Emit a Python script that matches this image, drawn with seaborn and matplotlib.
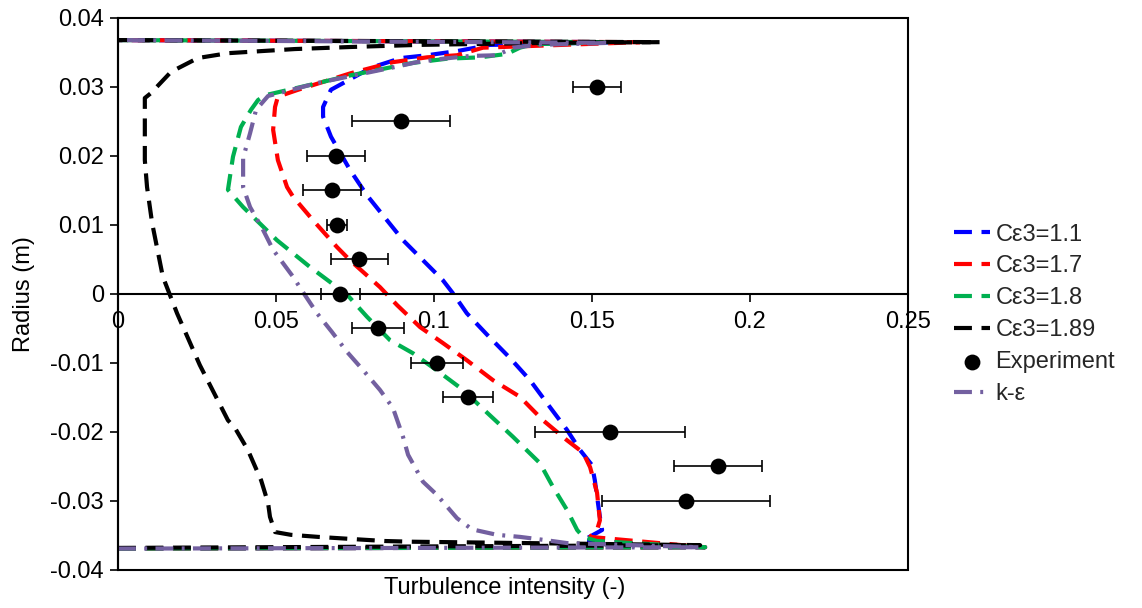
import numpy as np
import pandas as pd
import matplotlib
matplotlib.use("Agg")
import matplotlib.pyplot as plt
import seaborn as sns
from matplotlib.ticker import FuncFormatter

# ---------------- data ----------------
# Turbulence intensity (x) vs radius (y), ordered from bottom wall to top wall
c11_x = [0, 0.1858, 0.1472, 0.1532, 0.1525, 0.1509, 0.1500, 0.1462, 0.1421, 0.1367, 0.1304, 0.1241,
         0.1168, 0.1104, 0.1060, 0.1028, 0.0965, 0.0902, 0.0851, 0.0788, 0.0734, 0.0674, 0.0649,
         0.0649, 0.0674, 0.0718, 0.0801, 0.0896, 0.0978, 0.1073, 0.1177, 0.1589, 0]
c11_y = [-0.0369, -0.0367, -0.0357, -0.0342, -0.0323, -0.0270, -0.0248, -0.0226, -0.0197, -0.0164,
         -0.0125, -0.0093, -0.0059, -0.0028, 0.0001, 0.0020, 0.0049, 0.0078, 0.0107, 0.0143, 0.0180,
         0.0228, 0.0257, 0.0271, 0.0296, 0.0307, 0.0328, 0.0342, 0.0346, 0.0352, 0.0361, 0.0365, 0.0368]

c17_x = [0, 0.1858, 0.1494, 0.1516, 0.1525, 0.1516, 0.1494, 0.1472, 0.1421, 0.1345, 0.1304, 0.1272,
         0.1187, 0.1104, 0.1028, 0.0956, 0.0883, 0.0829, 0.0734, 0.0693, 0.0617, 0.0554, 0.0535,
         0.0506, 0.0491, 0.0497, 0.0506, 0.0570, 0.0737, 0.0870, 0.0978, 0.1073, 0.1155, 0.1652, 0]
c17_y = [-0.0369, -0.0367, -0.0352, -0.0342, -0.0328, -0.0288, -0.0251, -0.0230, -0.0212, -0.0183,
         -0.0164, -0.0149, -0.0125, -0.0096, -0.0071, -0.0048, -0.0016, 0.0010, 0.0049, 0.0068,
         0.0107, 0.0141, 0.0155, 0.0194, 0.0238, 0.0271, 0.0286, 0.0296, 0.0320, 0.0336, 0.0343,
         0.0346, 0.0357, 0.0365, 0.0368]

c18_x = [0, 0.1858, 0.1516, 0.1472, 0.1453, 0.1421, 0.1377, 0.1335, 0.1250, 0.1168, 0.1092, 0.1019,
         0.0934, 0.0861, 0.0788, 0.0725, 0.0608, 0.0503, 0.0396, 0.0348, 0.0364, 0.0389, 0.0421,
         0.0443, 0.0465, 0.0579, 0.0737, 0.0934, 0.1041, 0.1146, 0.1231, 0.1272, 0.1313, 0.1557, 0]
c18_y = [-0.0369, -0.0367, -0.0358, -0.0352, -0.0342, -0.0313, -0.0280, -0.0245, -0.0207, -0.0172,
         -0.0139, -0.0114, -0.0086, -0.0067, -0.0033, -0.0001, 0.0039, 0.0078, 0.0126, 0.0151,
         0.0199, 0.0242, 0.0267, 0.0281, 0.0288, 0.0300, 0.0317, 0.0335, 0.0341, 0.0343, 0.0348,
         0.0357, 0.0362, 0.0365, 0.0368]

c189_x = [0, 0.1842, 0.0927, 0.0845, 0.0737, 0.0633, 0.0547, 0.0497, 0.0481, 0.0475, 0.0453, 0.0411,
          0.0370, 0.0348, 0.0259, 0.0187, 0.0142, 0.0108, 0.0092, 0.0085, 0.0085, 0.0085, 0.0104,
          0.0168, 0.0253, 0.0348, 0.0453, 0.0560, 0.0737, 0.0949, 0.1367, 0.1715, 0]
c189_y = [-0.0368, -0.0364, -0.0359, -0.0358, -0.0355, -0.0352, -0.0349, -0.0345, -0.0323, -0.0303,
          -0.0270, -0.0226, -0.0194, -0.0183, -0.0103, -0.0028, 0.0025, 0.0103, 0.0155, 0.0194,
          0.0252, 0.0284, 0.0291, 0.0322, 0.0342, 0.0349, 0.0352, 0.0355, 0.0358, 0.0361, 0.0364,
          0.0365, 0.0368]

ke_x = [0, 0.1840, 0.1421, 0.1358, 0.1272, 0.1199, 0.1120, 0.1073, 0.1009, 0.0965, 0.0918, 0.0902,
        0.0870, 0.0829, 0.0775, 0.0725, 0.0677, 0.0630, 0.0585, 0.0554, 0.0491, 0.0459, 0.0418,
        0.0396, 0.0396, 0.0418, 0.0437, 0.0475, 0.0633, 0.0877, 0.0946, 0.1028, 0.1114, 0.1199,
        0.1250, 0.1326, 0.1557, 0]
ke_y = [-0.0369, -0.0367, -0.0361, -0.0357, -0.0352, -0.0349, -0.0341, -0.0325, -0.0291, -0.0272,
        -0.0233, -0.0207, -0.0165, -0.0139, -0.0110, -0.0084, -0.0055, -0.0028, 0.0003, 0.0025,
        0.0064, 0.0093, 0.0126, 0.0155, 0.0197, 0.0233, 0.0267, 0.0287, 0.0306, 0.0329, 0.0336,
        0.0341, 0.0345, 0.0346, 0.0357, 0.0361, 0.0364, 0.0368]

exp_r = [0.03, 0.025, 0.02, 0.015, 0.01, 0.005, 0, -0.005, -0.01, -0.015, -0.02, -0.025, -0.03]
exp_ti = [0.1516, 0.0896, 0.0690, 0.0677, 0.0693, 0.0763, 0.0703, 0.0823, 0.1010, 0.1108, 0.1557,
          0.1899, 0.1797]
exp_err = [0.0076, 0.0155, 0.0092, 0.0092, 0.0032, 0.0090, 0.0062, 0.0081, 0.0082, 0.0078, 0.0237,
           0.0139, 0.0265]

labels = ["Cε3=1.1", "Cε3=1.7", "Cε3=1.8", "Cε3=1.89", "Experiment", "k-ε"]
x_ticks = [0, 0.05, 0.1, 0.15, 0.2, 0.25]
y_ticks = [-0.04, -0.03, -0.02, -0.01, 0, 0.01, 0.02, 0.03, 0.04]

# ---------------- style ----------------
sns.set_theme(style="white")
plt.rcParams["font.family"] = ["Liberation Sans", "DejaVu Sans"]
plt.rcParams["axes.unicode_minus"] = False
FS = 17

fig = plt.figure(figsize=(11.42, 6.08), dpi=100)
ax = fig.add_axes([0.1033, 0.0625, 0.6918, 0.9079])

dash = (0, (4.3, 2.3))
lw = 3.0
series = [
    (c11_x, c11_y, "#0000FF", labels[0]),
    (c17_x, c17_y, "#FF0000", labels[1]),
    (c18_x, c18_y, "#00B050", labels[2]),
    (c189_x, c189_y, "#000000", labels[3]),
]
for xs, ys, col, lab in series:
    sns.lineplot(x=xs, y=ys, sort=False, estimator=None, errorbar=None, color=col,
                 linestyle=dash, linewidth=lw, label=lab, ax=ax)

ax.errorbar(exp_ti, exp_r, xerr=exp_err, fmt="none", ecolor="black", elinewidth=1.2,
            capsize=4, capthick=1.2, zorder=5)
sns.scatterplot(x=exp_ti, y=exp_r, color="black", s=130, edgecolor="black", linewidth=0,
                label=labels[4], ax=ax, zorder=6)

sns.lineplot(x=ke_x, y=ke_y, sort=False, estimator=None, errorbar=None, color="#7360A0",
             linestyle=(0, (4.3, 2.0, 0.7, 2.0)), linewidth=lw, label=labels[5], ax=ax)

# ---------------- axes ----------------
ax.set_xlim(0, 0.25)
ax.set_ylim(-0.04, 0.04)
ax.set_xticks(x_ticks)
ax.set_yticks(y_ticks)
fmt = FuncFormatter(lambda v, p: f"{round(v, 4):g}" if abs(v) > 1e-9 else "0")
ax.xaxis.set_major_formatter(fmt)
ax.yaxis.set_major_formatter(fmt)

for s in ["top", "right"]:
    ax.spines[s].set_visible(False)
ax.spines["left"].set_color("black")
ax.spines["left"].set_linewidth(1.5)
ax.spines["bottom"].set_position(("data", 0))
ax.spines["bottom"].set_color("black")
ax.spines["bottom"].set_linewidth(1.5)
ax.patch.set_edgecolor("black")
ax.patch.set_linewidth(1.5)

ax.tick_params(axis="both", which="major", direction="out", length=6, width=1.2,
               color="black", labelsize=FS, labelcolor="black")
ax.tick_params(axis="x", pad=6, bottom=True)
ax.tick_params(axis="y", pad=4, left=True)

ax.set_xlabel("Turbulence intensity (-)", fontsize=FS, color="black")
ax.set_ylabel("Radius (m)", fontsize=FS, color="black")
ax.xaxis.set_label_coords(0.49, -0.012)
ax.yaxis.set_label_coords(-0.105, 0.5)

ax.legend(loc="center left", bbox_to_anchor=(0.817, 0.483), bbox_transform=fig.transFigure,
          frameon=False, fontsize=FS, handlelength=1.5, handletextpad=0.25, labelspacing=0.42,
          markerscale=1.0)

fig.savefig("out.png", dpi=100)
